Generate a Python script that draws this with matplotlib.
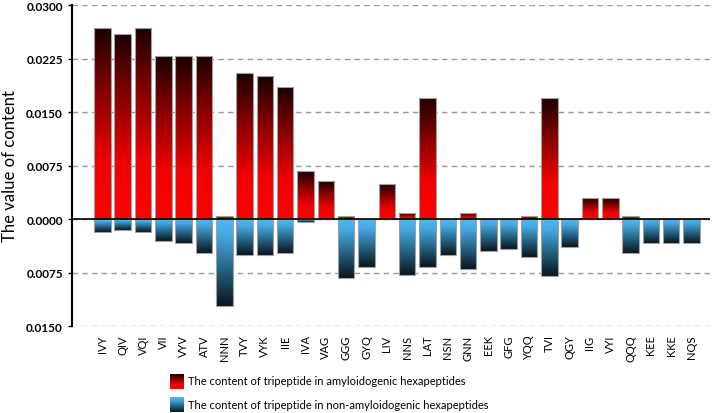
import numpy as np
import matplotlib
matplotlib.use("Agg")
import matplotlib.pyplot as plt
from matplotlib.colors import LinearSegmentedColormap
from matplotlib.patches import Rectangle
from matplotlib.ticker import FuncFormatter

plt.rcParams["font.family"] = ["Lato", "DejaVu Sans"]

tripeptides = ["IVY", "QIV", "VQI", "VII", "VYV", "ATV", "NNN", "TVY", "VYK", "IIE",
               "IVA", "VAG", "GGG", "GYQ", "LIV", "NNS", "LAT", "NSN", "GNN", "EEK",
               "GFG", "YQQ", "TVI", "QGY", "IIG", "VYI", "QQQ", "KEE", "KKE", "NQS"]
amyloid = [0.0268, 0.0259, 0.0268, 0.0229, 0.0229, 0.0229, 0.0004, 0.0205, 0.0200, 0.0185,
           0.0067, 0.0053, 0.0004, 0.0, 0.0049, 0.0008, 0.0170, 0.0, 0.0008, 0.0,
           0.0, 0.0004, 0.0170, 0.0, 0.0029, 0.0029, 0.0004, 0.0, 0.0, 0.0]
non_amyloid = [0.0018, 0.0015, 0.0018, 0.0031, 0.0034, 0.0048, 0.0122, 0.0050, 0.0050, 0.0048,
               0.0004, 0.0, 0.0083, 0.0067, 0.0, 0.0079, 0.0067, 0.0050, 0.0070, 0.0045,
               0.0042, 0.0053, 0.0080, 0.0039, 0.0, 0.0, 0.0048, 0.0034, 0.0034, 0.0034]
yticks = [0.03, 0.0225, 0.015, 0.0075, 0.0, -0.0075, -0.015]

# bottom -> top
red_cmap = LinearSegmentedColormap.from_list(
    "red_grad", [(0, "#ff0000"), (0.3, "#f00000"), (0.65, "#8a0000"), (1, "#1a0000")])
# top -> bottom
blue_cmap = LinearSegmentedColormap.from_list(
    "blue_grad", [(0, "#4fbaf8"), (0.2, "#45a8e0"), (0.6, "#23607f"), (1, "#0a151c")])
grad = np.linspace(0, 1, 256).reshape(-1, 1)

fig = plt.figure(figsize=(7.12, 4.14), dpi=100)
ax = fig.add_axes([0.101, 0.21, 0.896, 0.7755])

width = 0.81


def gradient_bar(x0, y0, h, cmap, origin):
    rect = Rectangle((x0, y0), width, h, fill=False, ec="#a0a0a0", lw=0.8, zorder=4)
    ax.add_patch(rect)
    im = ax.imshow(grad, cmap=cmap, origin=origin, aspect="auto",
                   interpolation="bilinear", extent=(x0, x0 + width, y0, y0 + h), zorder=3)
    im.set_clip_path(rect)


for i, (a, n) in enumerate(zip(amyloid, non_amyloid)):
    x0 = i - width / 2
    if a > 0:
        gradient_bar(x0, 0, a, red_cmap, "lower")
    if n > 0:
        gradient_bar(x0, -n, n, blue_cmap, "upper")

ax.set_xlim(-1.5, 29.9)
ax.set_ylim(-0.015, 0.03)
ax.set_yticks(yticks)
ax.yaxis.set_major_formatter(FuncFormatter(lambda v, p: f"{abs(v):.4f}"))
ax.set_xticks(range(len(tripeptides)))
ax.set_xticklabels(tripeptides, rotation=90, fontsize=8)
ax.tick_params(axis="x", length=0, pad=6)
ax.tick_params(axis="y", labelsize=8.5, length=3, width=1)
for lab in ax.get_yticklabels():
    lab.set_fontweight("bold")
ax.grid(axis="y", ls=(0, (4, 3)), color="#999999", lw=1, zorder=0)
ax.axhline(0, color="black", lw=1.2, zorder=5)
for s in ["top", "right", "bottom"]:
    ax.spines[s].set_visible(False)
ax.spines["left"].set_linewidth(1.5)
ax.set_ylabel("The value of content", fontsize=12, labelpad=6)

# legend with gradient swatches
sw1 = fig.add_axes([170 / 712, 1 - 390 / 414, 14 / 712, 15 / 414])
sw1.imshow(grad, cmap=red_cmap, origin="lower", aspect="auto")
sw1.axis("off")
sw2 = fig.add_axes([170 / 712, 1 - 413 / 414, 14 / 712, 15 / 414])
sw2.imshow(grad, cmap=blue_cmap, origin="upper", aspect="auto")
sw2.axis("off")
fig.text(188 / 712, 1 - 382 / 414, "The content of tripeptide in amyloidogenic hexapeptides",
         fontsize=8, va="center")
fig.text(188 / 712, 1 - 406 / 414, "The content of tripeptide in non-amyloidogenic hexapeptides",
         fontsize=8, va="center")

fig.savefig("out.png", dpi=100)
